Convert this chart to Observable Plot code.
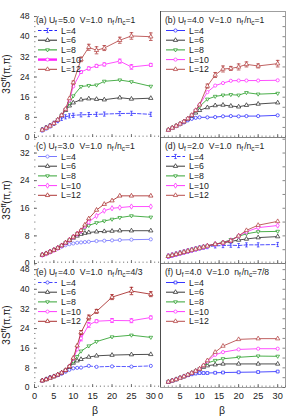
<!DOCTYPE html>
<html><head><meta charset="utf-8">
<script src="https://cdn.jsdelivr.net/npm/d3@7"></script>
<script src="https://cdn.jsdelivr.net/npm/@observablehq/plot@0.6"></script>
<style>
body{margin:0;background:#fff}
#fig{position:relative;width:298px;height:417px;overflow:hidden;background:#fff;font-family:"Liberation Sans",Arial,sans-serif}
#fig > svg{position:absolute}
</style>
</head><body><div id="fig"></div>
<script>
// ---------------- data ----------------
const seriesNames = ["L=4","L=6","L=8","L=10","L=12"];
const panelTags = ["(a)","(b)","(c)","(d)","(e)","(f)"];
const panelUf = ["5.0","4.0","3.0","2.0","4.0","4.0"];
const panelV = ["1.0","1.0","1.0","1.0","1.0","1.0"];
const panelRatio = ["1","1","1","1","4/3","7/8"];
const rowDomains = [[0,50],[0,36.5],[0,50.5]];
const yTicksRow = [[0,8,16,24,32,40,48],[0,8,16,24,32],[0,8,16,24,32,40,48]];
const xTickLabels = [0,5,10,15,20,25,30];

// (a) U_f=5.0
const betaA = [2,3,4,5,6,7,8,9,10,12,14,16,18,22,25,30];
const aL4  = [3.0,3.8,4.6,5.6,6.7,7.6,8.2,8.6,8.8,9.0,9.1,9.2,9.3,9.5,9.6,9.2];
const aL6  = [3.0,3.8,4.6,5.6,7.0,8.8,10.8,12.6,13.8,15.0,15.4,15.2,15.0,15.8,15.3,15.6];
const aL8  = [3.0,3.8,4.6,5.6,7.0,8.8,11.0,13.6,16.5,20.2,20.6,20.8,22.3,22.8,22.1,20.3];
const aL10 = [3.0,3.8,4.6,5.6,7.0,8.8,11.2,14.8,20.3,26.0,27.4,28.4,29.0,30.3,28.0,28.8];
const aL12 = [3.0,3.8,4.6,5.6,7.0,8.8,11.3,15.5,21.8,31.0,35.8,34.6,35.5,38.6,40.3,40.0];
const aErr10 = [0,0,0,0,0,0,0,0,0,0.5,0.6,0.6,0.6,0.8,0.9,0.6];
const aErr12 = [0,0,0,0,0,0,0,0,0.6,0.9,1.2,1.4,1.0,1.2,1.3,1.5];

// (b) U_f=4.0
const betaB = [2,3,4,5,6,7,8,9,10,12,14,16,18,20,22,25,30];
const bL4  = [3.0,3.8,4.5,5.2,6.0,6.8,7.4,7.8,8.0,8.0,8.1,8.4,8.5,8.4,8.5,8.5,8.8];
const bL6  = [3.0,3.8,4.6,5.4,6.3,7.4,8.6,9.8,10.8,11.9,12.7,12.9,12.5,12.2,12.8,13.3,13.8];
const bL8  = [3.0,3.8,4.6,5.4,6.3,7.5,8.9,10.6,12.3,15.2,16.3,16.8,17.0,16.8,17.8,17.2,17.5];
const bL10 = [3.0,3.8,4.6,5.4,6.3,7.5,8.9,10.8,13.0,18.0,20.6,21.6,22.5,22.6,22.6,22.6,22.7];
const bL12 = [3.0,3.8,4.6,5.4,6.3,7.5,8.9,10.8,13.0,20.4,24.8,27.2,27.4,28.0,29.0,28.4,29.3];
const bErr12 = [0,0,0,0,0,0,0,0,0,0.8,1.0,1.2,0.8,1.2,1.0,0.8,1.3];

// (c) U_f=3.0
const betaC = [2,3,4,5,6,7,8,9,10,11,12,13,14,16,18,20,22,25,30];
const cL4  = [2.5,2.9,3.4,3.9,4.4,4.9,5.3,5.6,5.8,6.0,6.1,6.2,6.3,6.5,6.6,6.7,6.8,6.9,7.0];
const cL6  = [2.5,2.9,3.4,3.9,4.5,5.2,6.0,6.7,7.4,8.0,8.5,8.8,9.0,9.2,9.3,9.4,9.5,9.5,9.5];
const cL8  = [2.5,2.9,3.4,3.9,4.5,5.2,6.0,6.8,7.7,8.6,9.4,10.3,11.0,11.8,12.3,12.8,13.3,13.8,13.4];
const cL10 = [2.5,2.9,3.4,3.9,4.5,5.2,6.0,6.8,7.7,8.6,9.5,10.8,12.0,13.8,15.3,16.0,16.2,16.5,16.5];
const cL12 = [2.5,2.9,3.4,3.9,4.5,5.2,6.0,6.8,7.7,8.6,9.6,11.2,13.0,15.5,17.2,18.2,19.6,19.6,19.6];

// (d) U_f=2.0
const betaD = [2,3,4,5,6,7,8,9,10,11,12,14,16,18,20,22,25,30];
const dL4  = [2.1,2.4,2.7,3.0,3.3,3.6,3.9,4.2,4.5,4.7,4.9,5.1,5.2,5.3,5.2,5.4,5.4,5.5];
const dL6  = [2.1,2.4,2.7,3.0,3.3,3.6,3.9,4.2,4.5,4.8,5.1,5.6,6.0,6.4,6.8,7.1,7.5,7.8];
const dL8  = [2.1,2.4,2.7,3.0,3.3,3.6,3.9,4.2,4.5,4.8,5.1,5.6,6.1,6.9,7.9,8.6,9.2,9.3];
const dL10 = [2.1,2.4,2.7,3.0,3.3,3.6,3.9,4.2,4.5,4.8,5.1,5.6,6.0,6.7,8.0,9.2,10.4,11.0];
const dL12 = [2.1,2.4,2.7,3.0,3.3,3.6,3.9,4.2,4.5,4.8,5.1,5.6,6.0,6.6,8.0,9.6,11.1,12.2];

// (e) U_f=4.0, n_f/n_c=4/3
const betaE = [2,3,4,5,6,7,8,9,10,11,12,14,16,20,25,30];
const eL4  = [2.8,3.5,4.2,4.6,5.0,5.6,6.4,7.2,7.8,8.0,8.1,8.8,8.4,8.6,8.5,8.8];
const eL6  = [2.8,3.3,3.9,4.5,5.2,6.0,7.0,8.3,10.0,10.9,11.5,12.4,12.9,13.2,13.4,13.5];
const eL8  = [2.8,3.3,3.9,4.5,5.2,6.0,7.0,8.5,10.6,12.6,14.8,16.9,18.7,20.6,21.3,20.4];
const eL10 = [2.8,3.3,3.9,4.5,5.2,6.0,7.0,8.6,11.6,15.5,20.0,25.5,27.0,27.3,27.2,28.5];
const eL12 = [2.8,3.3,3.9,4.5,5.2,6.0,7.0,8.6,12.0,17.0,22.4,28.5,31.0,36.8,39.3,38.0];
const eErr10 = [0,0,0,0,0,0,0,0,0,0,1.0,1.0,0.6,0.8,0.8,0.6];
const eErr12 = [0,0,0,0,0,0,0,0,0,0,0.8,1.0,0.8,1.0,1.5,1.0];

// (f) U_f=4.0, n_f/n_c=7/8
const betaF = [2,3,4,5,6,7,8,9,10,11,12,14,16,20,25,30];
const fL4  = [2.3,2.8,3.3,3.9,4.5,5.0,5.4,5.7,5.9,5.9,5.9,6.0,6.1,6.2,6.3,6.5];
const fL6  = [2.3,2.8,3.3,3.9,4.5,5.2,5.9,6.7,7.5,8.3,8.9,9.3,9.6,9.6,9.6,9.6];
const fL8  = [2.3,2.8,3.3,3.9,4.5,5.2,5.9,6.7,7.6,8.7,10.0,11.0,11.7,12.3,12.8,12.7];
const fL10 = [2.3,2.8,3.3,3.9,4.5,5.2,5.9,6.7,7.6,8.9,10.6,13.3,14.4,15.5,15.8,15.8];
const fL12 = [2.3,2.8,3.3,3.9,4.5,5.2,5.9,6.7,7.6,9.0,11.0,14.4,16.9,19.6,19.9,19.9];

// ---------------- styling ----------------
const baseColors = ["#2020ff","#222222","#1e9a1e","#ff22ff","#b03a3a"];
const downTri = {draw(ctx, size){const r=Math.sqrt(size/Math.PI)*1.15;ctx.moveTo(-r,-r*0.6);ctx.lineTo(r,-r*0.6);ctx.lineTo(0,r*1.1);ctx.closePath();}};
const vBar = {draw(ctx, size){const r=Math.sqrt(size/Math.PI);ctx.moveTo(0,-r*1.3);ctx.lineTo(0,r*1.3);ctx.moveTo(-r*0.8,-r*1.3);ctx.lineTo(r*0.8,-r*1.3);ctx.moveTo(-r*0.8,r*1.3);ctx.lineTo(r*0.8,r*1.3);}};
const hCap = {draw(ctx, size){const r=Math.sqrt(size/Math.PI);ctx.moveTo(-r,0);ctx.lineTo(r,0);}};
const symbolTable = {circle:d3.symbolCircle, triangle:d3.symbolTriangle, square:d3.symbolSquare, diamond:d3.symbolDiamond, down:downTri, vbar:vBar};

const panels = [
  {beta:betaA, ys:[aL4,aL6,aL8,aL10,aL12], errs:{3:aErr10,4:aErr12}, dash:[1,0,0,0,0], syms:["vbar","triangle","down","circle","triangle"], colors:baseColors, legendW:[1,1,1,2.4,1]},
  {beta:betaB, ys:[bL4,bL6,bL8,bL10,bL12], errs:{4:bErr12}, dash:[0,0,0,0,0], syms:["circle","triangle","down","circle","triangle"], colors:baseColors},
  {beta:betaC, ys:[cL4,cL6,cL8,cL10,cL12], errs:{}, dash:[0,0,0,0,0], syms:["circle","triangle","down","diamond","triangle"], colors:["#6a6aff","#222222","#1e9a1e","#ff22ff","#a52020"]},
  {beta:betaD, ys:[dL4,dL6,dL8,dL10,dL12], errs:{}, dash:[1,0,0,0,0], syms:["vbar","triangle","down","diamond","triangle"], colors:baseColors},
  {beta:betaE, ys:[eL4,eL6,eL8,eL10,eL12], errs:{3:eErr10,4:eErr12}, dash:[1,0,0,0,0], syms:["circle","triangle","down","circle","triangle"], colors:["#3030ff","#222222","#1e9a1e","#ff22ff","#a01818"]},
  {beta:betaF, ys:[fL4,fL6,fL8,fL10,fL12], errs:{}, dash:[0,0,0,0,0], syms:["square","triangle","down","circle","triangle"], colors:baseColors}
];

const rowTop = [11,137,263], rowBottom = [137,263,387];
const fig = document.getElementById("fig");
const FONT = "Liberation Sans, Arial, sans-serif";

panels.forEach((p, idx) => {
  const row = Math.floor(idx/2), col = idx%2, left = col===0;
  const W = left ? 160 : 138;
  const top = rowTop[row], bottom = rowBottom[row];
  const svgTop = row===0 ? 0 : top;
  const H = row===2 ? 417 - svgTop : bottom - svgTop;
  const mT = top - svgTop, mB = H - (bottom - svgTop);
  const mL = left ? 34 : 0, mR = left ? 0 : 13;
  const innerW = W - mL - mR, innerH = bottom - top;
  const yD = rowDomains[row];
  const xMax = left ? 32.5 : 32;
  const marks = [];

  if (!left) {
    marks.push(Plot.frame({stroke:"#777", strokeWidth:0.7}));
    marks.push(Plot.ruleX([0], {stroke:"#444", strokeWidth:0.9}));
    marks.push(Plot.tickY(d3.range(0, yD[1], 4), {y:d=>d, insetLeft: innerW-2.5, stroke:"#555", strokeWidth:0.7}));
  } else {
    marks.push(Plot.tickY(d3.range(0, yD[1], 2), {y:d=>d, insetRight: innerW-1.5, stroke:"#666", strokeWidth:0.7}));
    marks.push(Plot.tickY(yTicksRow[row], {y:d=>d, insetRight: innerW-3, stroke:"#555", strokeWidth:0.8}));
    marks.push(Plot.axisY({ticks: yTicksRow[row], tickSize:0, tickPadding:5, label:null, fontSize:8.6}));
  }
  marks.push(Plot.tickX(d3.range(0, 33, 1), {x:d=>d, insetTop: innerH-1.5, stroke:"#666", strokeWidth:0.7}));
  marks.push(Plot.tickX(xTickLabels, {x:d=>d, insetTop: innerH-3, stroke:"#555", strokeWidth:0.8}));
  if (row===2) marks.push(Plot.axisX({ticks: xTickLabels, tickSize:0, tickPadding:5, label:null, fontSize:9.2}));

  p.ys.forEach((vals, s) => {
    const data = p.beta.map((b,i)=>({b, v: vals[i], e: p.errs[s] ? p.errs[s][i] : 0}));
    const c = p.colors[s];
    marks.push(Plot.line(data, {x:"b", y:"v", stroke:c, strokeWidth:0.8, strokeDasharray: p.dash[s] ? "3.5,2" : null}));
    if (p.errs[s]) {
      const ed = data.filter(d=>d.e>0);
      marks.push(Plot.ruleX(ed, {x:"b", y1:d=>d.v-d.e, y2:d=>d.v+d.e, stroke:c, strokeWidth:0.8}));
      marks.push(Plot.dot(ed, {x:"b", y:d=>d.v-d.e, symbol:hCap, r:1.8, stroke:c, strokeWidth:0.8}));
      marks.push(Plot.dot(ed, {x:"b", y:d=>d.v+d.e, symbol:hCap, r:1.8, stroke:c, strokeWidth:0.8}));
    }
    marks.push(Plot.dot(data, {x:"b", y:"v", symbol: symbolTable[p.syms[s]], r:1.6, stroke:c, fill:"white", strokeWidth:0.7}));
  });

  const node = Plot.plot({
    width: W, height: H, marginTop: mT, marginBottom: mB, marginLeft: mL, marginRight: mR,
    x: {domain:[0, xMax], axis:null},
    y: {domain: yD, axis:null},
    style: {background:"none", overflow:"visible", fontFamily: FONT, fontSize:"9px", color:"#222"},
    marks
  });
  node.style.left = (left ? 0 : 160) + "px";
  node.style.top = svgTop + "px";
  fig.appendChild(node);

  // title + legend
  const svg = d3.select(node);
  const g = svg.append("g").attr("font-family", FONT).attr("fill", "#222").attr("text-anchor", "start");
  const tx = left ? mL + 2 : 5;
  const ty = mT + 12;
  const t = g.append("text").attr("x", tx).attr("y", ty).attr("font-size", 8.6);
  t.append("tspan").text(panelTags[idx] + " U");
  t.append("tspan").attr("font-size", 6.4).attr("dy", 2).text("f");
  t.append("tspan").attr("dy", -2).attr("dx", 1).text("=" + panelUf[idx]);
  t.append("tspan").attr("dx", 5).text("V=" + panelV[idx]);
  t.append("tspan").attr("dx", 5).text("n");
  t.append("tspan").attr("font-size", 6.4).attr("dy", 2).text("f");
  t.append("tspan").attr("dy", -2).attr("dx", 1).text("/n");
  t.append("tspan").attr("font-size", 6.4).attr("dy", 2).text("c");
  t.append("tspan").attr("dy", -2).text("=" + panelRatio[idx]);

  const lx0 = left ? mL + 4 : 6, lx1 = lx0 + 19;
  seriesNames.forEach((name, s) => {
    const yy = mT + 19.5 + 9.7*s;
    const c = p.colors[s];
    const lw = p.legendW ? p.legendW[s] : 0.9;
    g.append("line").attr("x1", lx0).attr("x2", lx1).attr("y1", yy).attr("y2", yy)
      .attr("stroke", c).attr("stroke-width", lw).attr("stroke-dasharray", p.dash[s] ? "3.5,2" : null);
    g.append("path").attr("transform", `translate(${(lx0+lx1)/2},${yy})`)
      .attr("d", d3.symbol().type(symbolTable[p.syms[s]]).size(Math.PI*1.6*1.6)())
      .attr("stroke", c).attr("fill", "white").attr("stroke-width", 0.7);
    g.append("text").attr("x", lx1 + 4).attr("y", yy + 3).attr("font-size", 8.8).text(name);
  });

  if (left) {
    const cy = mT + innerH/2;
    const yl = g.append("text").attr("transform", `translate(10,${cy}) rotate(-90)`)
      .attr("text-anchor", "middle").attr("font-size", 10);
    yl.append("tspan").text("3S");
    yl.append("tspan").attr("font-size", 7).attr("dy", -4).text("ff");
    yl.append("tspan").attr("dy", 4).text("(π,π)");
  }
  if (row===2) {
    g.append("text").attr("x", left ? 95 : 62).attr("y", 414 - svgTop).attr("text-anchor","middle")
      .attr("font-size", 10.5).text("β");
  }
});
</script>
</body></html>
